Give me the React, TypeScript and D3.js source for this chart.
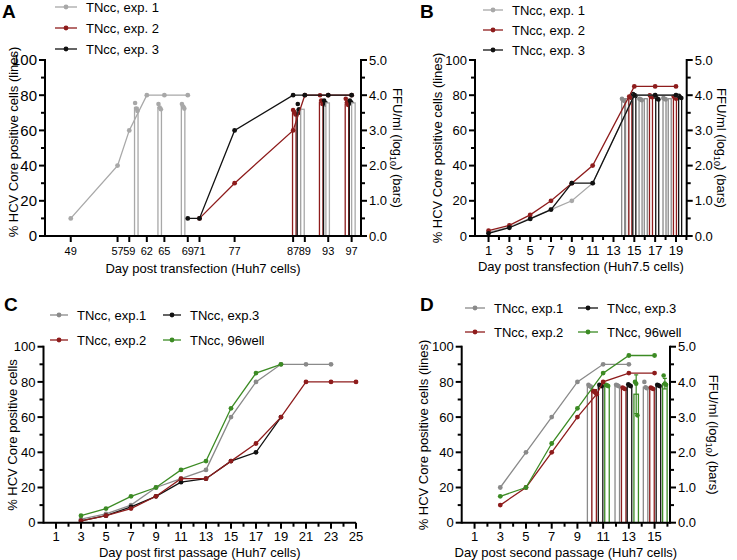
import React from 'react';
import * as d3 from 'd3';

const FONT = '"Liberation Sans", Arial, Helvetica, sans-serif';
const C_GRAY_L = '#a8a8a8';
const C_GRAY = '#8a8a8a';
const C_RED = '#8e1c1c';
const C_BLACK = '#111111';
const C_GREEN = '#3c8b24';

// ---------- Panel A data ----------
const A_days1 = [49, 57, 59, 62, 65, 69];
const A_vals1 = [10, 40, 60, 80, 80, 80];
const A_days2 = [71, 77, 87, 89, 93, 97];
const A_vals2 = [10, 30, 60, 80, 80, 80];
const A_days3 = [69, 71, 77, 87, 89, 93, 97];
const A_vals3 = [10, 10, 60, 80, 80, 80, 80];
const A_xTicks = [49, 57, 59, 62, 65, 69, 71, 77, 87, 89, 93, 97];
const A_barDays = [60.2, 64.2, 68.2, 87.2, 88.0, 88.6, 91.8, 92.5, 92.9, 96.2, 96.9, 97.3];
const A_barVals = [3.65, 3.65, 3.68, 3.5, 3.6, 3.6, 3.8, 3.8, 3.78, 3.75, 3.8, 3.78];
const A_barSer = [0, 0, 0, 1, 2, 0, 1, 2, 0, 1, 2, 0];
const A_barReps = [[3.78, 3.62, 3.55], [3.75, 3.65, 3.6], [3.75, 3.68, 3.62], [3.58, 3.52, 3.45], [3.75, 3.6, 3.5], [], [4.0, 3.85, 3.75], [3.85, 3.78, 3.72], [], [3.9, 3.8, 3.72], [3.85, 3.8, 3.75], []];

// ---------- Panel B data ----------
const B_days = [1, 3, 5, 7, 9, 11, 15, 17, 19];
const B_vals1 = [2, 5, 10, 15, 20, 30, 80, 80, 80];
const B_vals2 = [3, 6, 12, 20, 30, 40, 85, 85, 85];
const B_vals3 = [1.5, 4.7, 9.7, 15, 30, 30, 80, 80, 80];
const B_xTicks = [1, 3, 5, 7, 9, 11, 13, 15, 17, 19];
const B_barDays = [13.93, 14.3, 14.62, 15.0, 15.6, 16.1, 16.6, 17.2, 17.9, 18.4, 18.9, 19.4];
const B_barVals = [3.88, 3.9, 3.95, 4.02, 3.88, 3.9, 3.98, 3.92, 3.9, 3.9, 3.95, 3.95];
const B_barSer = [0, 0, 1, 2, 0, 0, 1, 2, 0, 0, 1, 2];
const B_barReps = [[3.9, 3.86, 3.84], [], [3.96, 3.94, 3.92], [4.03, 4.0, 3.98], [3.9, 3.88, 3.86], [], [4.0, 3.96, 3.94], [3.95, 3.9, 3.88], [3.92, 3.9, 3.88], [], [3.96, 3.94, 3.9], [3.98, 3.94, 3.92]];

// ---------- Panel C data ----------
const C_days = [3, 5, 7, 9, 11, 13, 15, 17, 19, 21, 23, 25];
const C_vals1 = [2, 5, 10, 20, 25, 30, 60, 80, 90, 90, 90];
const C_vals2 = [1, 4, 8, 15, 25, 25, 35, 45, 60, 80, 80, 80];
const C_vals3 = [1, 4, 9, 15, 23, 25, 35, 40, 60];
const C_valsW = [4, 8, 15, 20, 30, 35, 65, 85, 90];
const C_xTicks = [1, 3, 5, 7, 9, 11, 13, 15, 17, 19, 21, 23, 25];

// ---------- Panel D data ----------
const D_days1 = [3, 5, 7, 9, 11, 13];
const D_vals1 = [20, 40, 60, 80, 90, 90];
const D_days2 = [3, 5, 7, 9, 10.5, 11, 13, 15];
const D_vals2 = [10, 20, 40, 60, 73, 80, 85, 85];
const D_daysW = [3, 5, 7, 9, 11, 13, 15];
const D_valsW = [15, 20, 45, 65, 85, 95, 95];
const D_xTicks = [1, 3, 5, 7, 9, 11, 13, 15];
const D_barDays = [9.95, 10.3, 10.8, 11.3, 12.1, 12.6, 13.05, 13.57, 14.3, 14.8, 15.3, 15.8];
const D_barVals = [3.9, 3.78, 3.9, 3.9, 3.9, 3.82, 3.9, 3.65, 3.85, 3.82, 3.9, 3.95];
const D_barSer = [0, 1, 2, 3, 0, 1, 2, 3, 0, 1, 2, 3];
const D_barReps = [[3.92, 3.88, 3.86], [3.75, 3.72, 3.7], [3.92, 3.9, 3.88], [3.92, 3.9, 3.88], [3.92, 3.9, 3.88], [3.84, 3.82, 3.8], [3.93, 3.9, 3.88], [4.0, 3.95, 3.05], [4.0, 3.85, 3.82], [3.84, 3.82, 3.8], [3.92, 3.9, 3.88], [4.18, 3.95, 3.92]];
const D_barErr = [0, 0, 0, 0, 0, 0, 0, 0.55, 0, 0, 0, 0.15];

type Series = { name: string; color: string; days: number[]; vals: number[] };
type Bars = { days: number[]; vals: number[]; ser: number[]; reps: number[][]; err?: number[] };

type Cfg = {
  label: string; labelX: number; labelY: number;
  xDomain: [number, number]; xRange: [number, number]; yRange: [number, number];
  xTicks: number[]; xMinor: number[]; xTickSize: number; xTickOff: number; yTickSize: number;
  xTitle: string; xTitleOff: number; yTitle: string; yTitleX: number; yTitleY: number;
  rightAxis: boolean; rightTitleX?: number;
  series: Series[]; barColors?: string[]; bars?: Bars; barW?: number;
  legend: { s: number; x: number; y: number; len: number }[];
};

function Panel({ cfg }: { cfg: Cfg }) {
  const x = d3.scaleLinear().domain(cfg.xDomain).range(cfg.xRange);
  const y = d3.scaleLinear().domain([0, 100]).range(cfg.yRange);
  const yR = d3.scaleLinear().domain([0, 5]).range(cfg.yRange);
  const line = d3.line<[number, number]>().x(d => x(d[0])).y(d => y(d[1]));
  const x0 = cfg.xRange[0], x1 = cfg.xRange[1];
  const yb = y(0), yt = y(100);
  const yMaj = d3.range(0, 101, 20);
  const yMin = d3.range(10, 100, 20);
  const rMaj = d3.range(0, 5.01, 1);
  const rMin = d3.range(0.5, 5, 1);
  const bw = cfg.barW || 4;
  return (
    <g fontFamily={FONT}>
      <text x={cfg.labelX} y={cfg.labelY} fontSize={19} fontWeight="bold">{cfg.label}</text>
      {cfg.bars && cfg.bars.days.map((d, i) => {
        const col = cfg.barColors![cfg.bars!.ser[i]];
        const v = cfg.bars!.vals[i];
        const e = cfg.bars!.err ? cfg.bars!.err[i] : 0;
        return (
          <g key={'b' + i}>
            <rect x={x(d) - bw / 2} y={yR(v)} width={bw} height={yb - yR(v)} fill="#fff" stroke={col} strokeWidth={1.3} />
            {e > 0 && <line x1={x(d)} x2={x(d)} y1={yR(v + e)} y2={yR(v - e)} stroke={col} strokeWidth={1.2} />}
            {e > 0 && <line x1={x(d) - 2} x2={x(d) + 2} y1={yR(v + e)} y2={yR(v + e)} stroke={col} strokeWidth={1.2} />}
            {e > 0 && <line x1={x(d) - 2} x2={x(d) + 2} y1={yR(v - e)} y2={yR(v - e)} stroke={col} strokeWidth={1.2} />}
            {cfg.bars!.reps[i].map((r, j) => (
              <circle key={j} cx={x(d) + (j - 1) * 1.2} cy={yR(r)} r={2.3} fill={col} />
            ))}
          </g>
        );
      })}
      {cfg.series.map((s, i) => {
        const pts: [number, number][] = s.vals.map((v, j) => [s.days[j], v]);
        return (
          <g key={'s' + i}>
            <path d={line(pts) || ''} fill="none" stroke={s.color} strokeWidth={1.3} />
            {pts.map((p, j) => <circle key={j} cx={x(p[0])} cy={y(p[1])} r={2.4} fill={s.color} />)}
          </g>
        );
      })}
      <line x1={x0} x2={x1} y1={yb} y2={yb} stroke="#000" strokeWidth={2} />
      <line x1={x0} x2={x0} y1={yb + 1} y2={yt - 1} stroke="#000" strokeWidth={2} />
      {cfg.rightAxis && <line x1={x1} x2={x1} y1={yb + 1} y2={yt - 1} stroke="#000" strokeWidth={2} />}
      {yMaj.map(v => (
        <g key={'ym' + v}>
          <line x1={x0 - 6} x2={x0} y1={y(v)} y2={y(v)} stroke="#000" strokeWidth={2} />
          <text x={x0 - 8} y={y(v)} dy="0.36em" textAnchor="end" fontSize={cfg.yTickSize}>{v}</text>
        </g>
      ))}
      {yMin.map(v => <line key={'yn' + v} x1={x0 - 4} x2={x0} y1={y(v)} y2={y(v)} stroke="#000" strokeWidth={2} />)}
      {cfg.rightAxis && rMaj.map(v => (
        <g key={'rm' + v}>
          <line x1={x1} x2={x1 + 6} y1={yR(v)} y2={yR(v)} stroke="#000" strokeWidth={2} />
          <text x={x1 + 8} y={yR(v)} dy="0.36em" textAnchor="start" fontSize={13}>{v.toFixed(1)}</text>
        </g>
      ))}
      {cfg.rightAxis && rMin.map(v => <line key={'rn' + v} x1={x1} x2={x1 + 4} y1={yR(v)} y2={yR(v)} stroke="#000" strokeWidth={2} />)}
      {cfg.xTicks.map(v => (
        <g key={'xm' + v}>
          <line x1={x(v)} x2={x(v)} y1={yb} y2={yb + 6} stroke="#000" strokeWidth={2} />
          <text x={x(v)} y={yb + cfg.xTickOff} textAnchor="middle" fontSize={cfg.xTickSize}>{v}</text>
        </g>
      ))}
      {cfg.xMinor.map(v => <line key={'xn' + v} x1={x(v)} x2={x(v)} y1={yb} y2={yb + 4} stroke="#000" strokeWidth={2} />)}
      <text x={(x0 + x1) / 2} y={yb + cfg.xTitleOff} textAnchor="middle" fontSize={13}>{cfg.xTitle}</text>
      <text transform={`translate(${cfg.yTitleX},${cfg.yTitleY}) rotate(-90)`} textAnchor="middle" dy="0.35em" fontSize={13}>{cfg.yTitle}</text>
      {cfg.rightAxis && (
        <text transform={`translate(${cfg.rightTitleX},${(yb + yt) / 2}) rotate(90)`} textAnchor="middle" dy="0.35em" fontSize={13}>
          FFU/ml (log<tspan fontSize={9} dy="3">10</tspan><tspan dy="-3">) (bars)</tspan>
        </text>
      )}
      {cfg.legend.map((l, i) => {
        const s = cfg.series[l.s];
        return (
          <g key={'l' + i}>
            <line x1={l.x} x2={l.x + l.len} y1={l.y} y2={l.y} stroke={s.color} strokeWidth={1.3} />
            <circle cx={l.x + l.len / 2} cy={l.y} r={2.4} fill={s.color} />
            <text x={l.x + l.len + 9} y={l.y} dy="0.35em" fontSize={13}>{s.name}</text>
          </g>
        );
      })}
    </g>
  );
}

const cfgA: Cfg = {
  label: 'A', labelX: 2, labelY: 18,
  xDomain: [44.6, 98.6], xRange: [45, 361], yRange: [236, 60],
  xTicks: A_xTicks, xMinor: [], xTickSize: 11, xTickOff: 19, yTickSize: 15,
  xTitle: 'Day post transfection (Huh7 cells)', xTitleOff: 37, yTitle: '% HCV Core positive cells (lines)', yTitleX: 13, yTitleY: 142,
  rightAxis: true, rightTitleX: 398,
  series: [
    { name: 'TNcc, exp. 1', color: C_GRAY_L, days: A_days1, vals: A_vals1 },
    { name: 'TNcc, exp. 2', color: C_RED, days: A_days2, vals: A_vals2 },
    { name: 'TNcc, exp. 3', color: C_BLACK, days: A_days3, vals: A_vals3 },
  ],
  barColors: [C_GRAY_L, C_RED, C_BLACK],
  bars: { days: A_barDays, vals: A_barVals, ser: A_barSer, reps: A_barReps }, barW: 3.5,
  legend: [{ s: 0, x: 55, y: 7, len: 22 }, { s: 1, x: 55, y: 28, len: 22 }, { s: 2, x: 55, y: 49, len: 22 }],
};

const cfgB: Cfg = {
  label: 'B', labelX: 420, labelY: 18,
  xDomain: [-0.3, 20.03], xRange: [475, 686.7], yRange: [236, 60],
  xTicks: B_xTicks, xMinor: d3.range(2, 21, 2), xTickSize: 13, xTickOff: 19, yTickSize: 13,
  xTitle: 'Day post transfection (Huh7.5 cells)', xTitleOff: 35, yTitle: '% HCV Core positive cells (lines)', yTitleX: 437, yTitleY: 148,
  rightAxis: true, rightTitleX: 722,
  series: [
    { name: 'TNcc, exp. 1', color: C_GRAY_L, days: B_days, vals: B_vals1 },
    { name: 'TNcc, exp. 2', color: C_RED, days: B_days, vals: B_vals2 },
    { name: 'TNcc, exp. 3', color: C_BLACK, days: B_days, vals: B_vals3 },
  ],
  barColors: [C_GRAY, C_RED, C_BLACK],
  bars: { days: B_barDays, vals: B_barVals, ser: B_barSer, reps: B_barReps }, barW: 3,
  legend: [{ s: 0, x: 483, y: 10, len: 20 }, { s: 1, x: 483, y: 30, len: 20 }, { s: 2, x: 483, y: 50, len: 20 }],
};

const cfgC: Cfg = {
  label: 'C', labelX: 4, labelY: 311,
  xDomain: [0, 25], xRange: [43.5, 356], yRange: [522.7, 346.7],
  xTicks: C_xTicks, xMinor: d3.range(2, 25, 2), xTickSize: 13, xTickOff: 18, yTickSize: 13,
  xTitle: 'Day post first passage (Huh7 cells)', xTitleOff: 34, yTitle: '% HCV Core positive cells', yTitleX: 12, yTitleY: 435,
  rightAxis: false,
  series: [
    { name: 'TNcc, exp.1', color: C_GRAY, days: C_days, vals: C_vals1 },
    { name: 'TNcc, exp.3', color: C_BLACK, days: C_days, vals: C_vals3 },
    { name: 'TNcc, exp.2', color: C_RED, days: C_days, vals: C_vals2 },
    { name: 'TNcc, 96well', color: C_GREEN, days: C_days, vals: C_valsW },
  ],
  legend: [{ s: 0, x: 50, y: 315, len: 18 }, { s: 1, x: 163, y: 315, len: 18 }, { s: 2, x: 50, y: 340, len: 18 }, { s: 3, x: 163, y: 340, len: 18 }],
};

const cfgD: Cfg = {
  label: 'D', labelX: 420, labelY: 311,
  xDomain: [0, 16.2], xRange: [461.7, 670], yRange: [522.7, 346.7],
  xTicks: D_xTicks, xMinor: d3.range(2, 17, 2), xTickSize: 13, xTickOff: 18, yTickSize: 13,
  xTitle: 'Day post second passage (Huh7 cells)', xTitleOff: 34, yTitle: '% HCV Core positive cells (lines)', yTitleX: 423, yTitleY: 435,
  rightAxis: true, rightTitleX: 714,
  series: [
    { name: 'TNcc, exp.1', color: C_GRAY, days: D_days1, vals: D_vals1 },
    { name: 'TNcc, exp.3', color: C_BLACK, days: [], vals: [] },
    { name: 'TNcc, exp.2', color: C_RED, days: D_days2, vals: D_vals2 },
    { name: 'TNcc, 96well', color: C_GREEN, days: D_daysW, vals: D_valsW },
  ],
  barColors: [C_GRAY, C_RED, C_BLACK, C_GREEN],
  bars: { days: D_barDays, vals: D_barVals, ser: D_barSer, reps: D_barReps, err: D_barErr }, barW: 4.5,
  legend: [{ s: 0, x: 465, y: 308, len: 20 }, { s: 1, x: 578, y: 308, len: 20 }, { s: 2, x: 465, y: 332, len: 20 }, { s: 3, x: 578, y: 332, len: 20 }],
};

export default function App() {
  return (
    <svg width={737} height={560} style={{ position: 'absolute', left: 0, top: 0, background: '#fff' }}>
      <rect width={737} height={560} fill="#fff" />
      <Panel cfg={cfgA} />
      <Panel cfg={cfgB} />
      <Panel cfg={cfgC} />
      <Panel cfg={cfgD} />
    </svg>
  );
}
